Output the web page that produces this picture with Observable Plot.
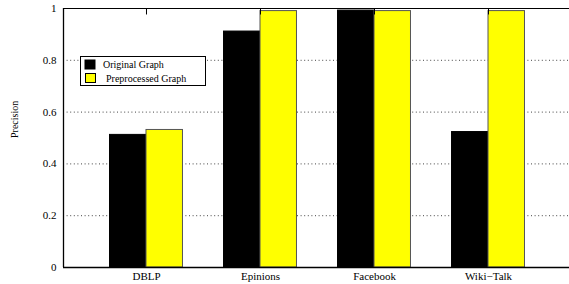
<!DOCTYPE html>
<html>
<head>
<meta charset="utf-8">
<script src="https://cdn.jsdelivr.net/npm/d3@7"></script>
<script src="https://cdn.jsdelivr.net/npm/@observablehq/plot@0.6"></script>
<style>
  html, body { margin: 0; padding: 0; background: #fff; }
  #chart { position: relative; width: 569px; height: 284px; overflow: hidden; }
  #chart svg, #chart svg text { font-family: 'Liberation Serif', 'DejaVu Serif', serif !important; }
</style>
</head>
<body>
<div id="chart"></div>
<script>
const categories = ["DBLP", "Epinions", "Facebook", "Wiki\u2212Talk"];
const seriesNames = ["Original Graph", "Preprocessed Graph"];
const originalValues = [0.512, 0.911, 0.992, 0.523];
const preprocessedValues = [0.531, 0.990, 0.990, 0.990];
const yTicks = [0, 0.2, 0.4, 0.6, 0.8, 1];
const gridValues = [0.2, 0.4, 0.6, 0.8];
const colors = ["#000000", "#ffff00"];

const barW = 0.32;
const data = [];
categories.forEach((c, i) => {
  data.push({cat: c, i, series: seriesNames[0], value: originalValues[i], x1: i - barW, x2: i});
  data.push({cat: c, i, series: seriesNames[1], value: preprocessedValues[i], x1: i, x2: i + barW});
});

const font = "'Liberation Serif', 'DejaVu Serif', serif";

const plot = Plot.plot({
  width: 569,
  height: 284,
  marginLeft: 63,
  marginRight: 0,
  marginTop: 8,
  marginBottom: 17,
  style: {fontFamily: font, fontSize: "11px", background: "#fff", color: "#000"},
  x: {domain: [-0.728, 3.728], range: [63, 571]},
  y: {domain: [0, 1]},
  color: {domain: seriesNames, range: colors},
  marks: [
    Plot.ruleY(gridValues, {stroke: "#444", strokeWidth: 1, strokeDasharray: "1,2.6"}),
    Plot.rectY(data, {x1: "x1", x2: "x2", y1: 0, y2: "value", fill: "series", stroke: d => d.series === seriesNames[0] ? "#000" : "#555", strokeWidth: 1}),
    Plot.ruleY([1], {stroke: "#000", strokeWidth: 1}),
    Plot.ruleY([0], {stroke: "#000", strokeWidth: 1.3}),
    Plot.ruleX([-0.728], {stroke: "#000", strokeWidth: 1.3}),
    Plot.ruleX(categories.map((c, i) => i), {x: d => d, y1: 1, y2: 0.975, stroke: "#000"}),
    Plot.axisY({ticks: yTicks, tickSize: 0, tickPadding: 7, tickFormat: d => String(d), fontSize: 11, fontFamily: font, label: null}),
    Plot.axisX({ticks: categories.map((c, i) => i), tickFormat: i => categories[i], tickSize: 0, tickPadding: 5, fontSize: 11, fontFamily: font, label: null}),
    Plot.text(["Precision"], {frameAnchor: "left", dx: -49, rotate: -90, fontSize: 10, fontFamily: font})
  ]
});

const svg = d3.select(plot);
const lg = svg.append("g").attr("font-family", font).attr("font-size", 10).attr("text-anchor", "start");
lg.append("rect").attr("x", 80.5).attr("y", 56.5).attr("width", 125).attr("height", 29).attr("fill", "#fff").attr("stroke", "#000").attr("stroke-width", 1);
lg.append("rect").attr("x", 85).attr("y", 60).attr("width", 10).attr("height", 9).attr("fill", colors[0]).attr("stroke", "#000");
lg.append("rect").attr("x", 85.5).attr("y", 73.5).attr("width", 10).attr("height", 9).attr("fill", colors[1]).attr("stroke", "#000");
lg.append("text").attr("x", 103).attr("y", 68).attr("text-anchor", "start").text(seriesNames[0]);
lg.append("text").attr("x", 106).attr("y", 82).attr("text-anchor", "start").text(seriesNames[1]);

document.getElementById("chart").appendChild(plot);
</script>
</body>
</html>
